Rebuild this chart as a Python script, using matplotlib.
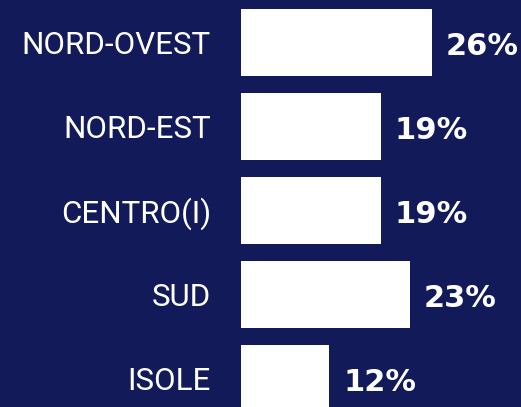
import matplotlib
matplotlib.use("Agg")
import matplotlib.pyplot as plt

# data
regions = ["NORD-OVEST", "NORD-EST", "CENTRO(I)", "SUD", "ISOLE"]
shares = [26, 19, 19, 23, 12]

bg = "#121a5a"

fig = plt.figure(figsize=(5.21, 4.07), dpi=100, facecolor=bg)
ax = fig.add_axes([0, 0, 1, 1])
ax.set_facecolor(bg)

ypos = list(range(len(regions)))
ax.barh(ypos, shares, height=0.8, color="white")

# 7.35 px per percent point, bars start at x=241 px
ax.set_xlim(-241 / 7.35, (521 - 241) / 7.35)
ax.set_ylim((407 - 42.5) / 84, -42.5 / 84)

for y, name, v in zip(ypos, regions, shares):
    ax.annotate(name, (0, y), xytext=(-30, -3), textcoords="offset pixels",
                ha="right", va="center", color="white", fontsize=22.5,
                family="Roboto", fontweight="normal")
    ax.annotate(f"{v}%", (v, y), xytext=(14, -4), textcoords="offset pixels",
                ha="left", va="center", color="white", fontsize=22,
                family="DejaVu Sans", fontweight="bold")

ax.axis("off")
fig.savefig("out.png", dpi=100, facecolor=bg)
